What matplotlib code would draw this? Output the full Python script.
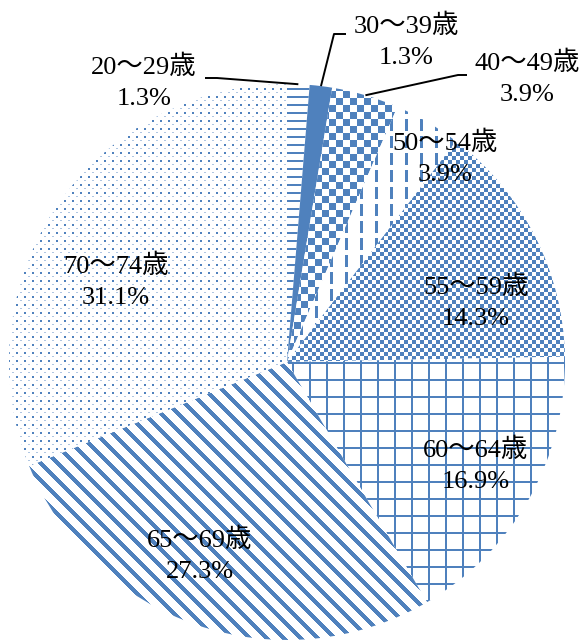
import numpy as np
import matplotlib
matplotlib.use("Agg")
import matplotlib.pyplot as plt

# age bands and their share of respondents (%)
labels = ["20～29歳", "30～39歳", "40～49歳", "50～54歳",
          "55～59歳", "60～64歳", "65～69歳", "70～74歳"]
shares = [1.3, 1.3, 3.9, 3.9, 14.3, 16.9, 27.3, 31.1]

W, H = 586, 640
BLUE = np.array([79, 129, 189]) / 255
LIGHT = np.array([175, 198, 226]) / 255
CX, CY, R = 287, 362, 278

FONT = ["Liberation Serif", "Noto Sans CJK JP"]


def fill_pattern(kind):
    yy, xx = np.mgrid[0:H, 0:W]
    img = np.ones((H, W, 3))
    if kind == "hlines":
        mask = (yy % 8) < 2
    elif kind == "solid":
        mask = np.ones_like(xx, dtype=bool)
    elif kind == "bigcheck":
        mask = ((xx // 7) + (yy // 7)) % 2 == 0
    elif kind == "dashv":
        mask = ((xx % 15) < 3) & ((yy % 17) < 12)
    elif kind == "smallcheck":
        mask = ((xx // 4) + (yy // 4)) % 2 == 0
    elif kind == "grid":
        mask = (((xx - 309) % 17) < 2) | (((yy - 362) % 17) < 2)
    elif kind == "diag":
        mask = ((xx - yy) % 17) < 6
    elif kind == "dots":
        mask = ((xx % 8) < 2) & ((yy % 8) < 2)
        faint = (((xx + 4) % 8) < 2) & (((yy + 4) % 8) < 1)
        img[faint] = LIGHT
    img[mask] = BLUE
    return img


patterns = ["hlines", "solid", "bigcheck", "dashv",
            "smallcheck", "grid", "diag", "dots"]

# where each two-line label sits (pixel coords, y from top)
label_pos = [(144, 82), (406, 41), (527, 78), (445, 158),
             (476, 302), (476, 465), (200, 555), (116, 281)]
# elbow and end of leader lines for the thin slices
leaders = {0: [(217, 78), (205, 78)],
           1: [(334, 34), (346, 34)],
           2: [(458, 75), (467, 75)]}

fig = plt.figure(figsize=(W / 100, H / 100), dpi=100)
ax = fig.add_axes([0, 0, 1, 1])

# y axis runs downward, so counterclockwise in data is clockwise on screen
wedges, _ = ax.pie(shares, startangle=-90, counterclock=True,
                   center=(CX, CY), radius=R,
                   wedgeprops=dict(facecolor="white", edgecolor="none"))

for w, kind in zip(wedges, patterns):
    im = ax.imshow(fill_pattern(kind), extent=(0, W, H, 0), origin="upper",
                   interpolation="nearest", zorder=2)
    im.set_clip_path(w)

for i, pts in leaders.items():
    w = wedges[i]
    mid = np.deg2rad((w.theta1 + w.theta2) / 2)
    edge = (CX + R * np.cos(mid), CY + R * np.sin(mid))
    xs = [edge[0]] + [p[0] for p in pts]
    ys = [edge[1]] + [p[1] for p in pts]
    ax.plot(xs, ys, color="black", lw=1.4, zorder=3, solid_capstyle="butt")

for lab, val, (x, y) in zip(labels, shares, label_pos):
    ax.text(x, y, f"{lab}\n{val}%", ha="center", va="center",
            multialignment="center", fontsize=19, family=FONT,
            linespacing=1.55, color="black", zorder=4)

ax.set_xlim(0, W)
ax.set_ylim(H, 0)
ax.set_aspect("equal")
ax.axis("off")

fig.savefig("out.png", dpi=100)
